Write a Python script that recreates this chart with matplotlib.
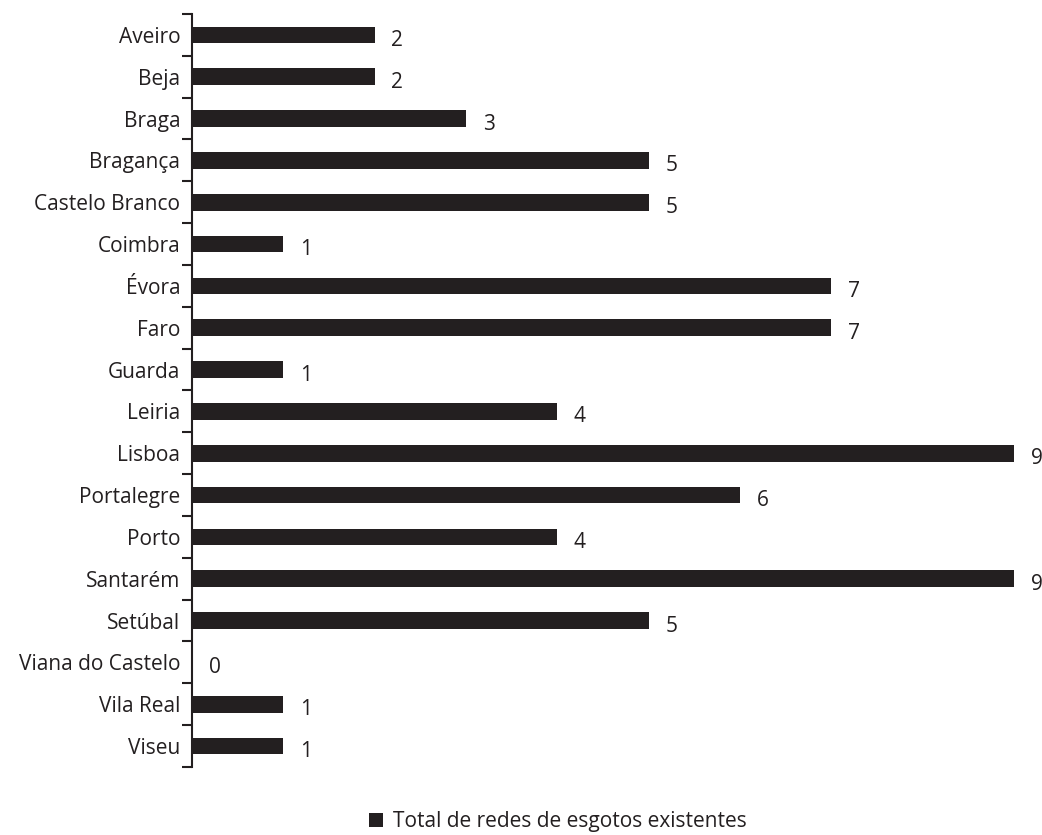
"""Horizontal bar chart: sewer networks per district."""

import matplotlib.pyplot as plt
import numpy as np
from matplotlib.patches import Patch

districts = [
    "Aveiro", "Beja", "Braga", "Bragança", "Castelo Branco", "Coimbra",
    "Évora", "Faro", "Guarda", "Leiria", "Lisboa", "Portalegre", "Porto",
    "Santarém", "Setúbal", "Viana do Castelo", "Vila Real", "Viseu",
]
networks = [2, 2, 3, 5, 5, 1, 7, 7, 1, 4, 9, 6, 4, 9, 5, 0, 1, 1]
series_label = "Total de redes de esgotos existentes"

BAR_COLOR = "#231f20"
FS = 15

plt.rcParams["font.family"] = ["Open Sans", "DejaVu Sans"]

fig = plt.figure(figsize=(10.42, 8.35), dpi=100)
ax = fig.add_axes([192 / 1042, 68 / 835, 822 / 1042, (767 - 14) / 835])

y = np.arange(len(districts))
ax.barh(y, networks, height=0.4, color=BAR_COLOR)

for yi, v in zip(y, networks):
    ax.annotate(str(v), (v, yi), xytext=(12, -4), textcoords="offset points",
                ha="left", va="center", fontsize=FS, color="#231f20",
                annotation_clip=False)

ax.set_xlim(0, 9)
ax.set_ylim(len(districts) - 0.5, -0.5)
ax.set_yticks(y)
ax.set_yticklabels(districts, fontsize=FS, color="#231f20")
ax.set_yticks(np.arange(len(districts) + 1) - 0.5, minor=True)
ax.tick_params(axis="y", which="major", length=0, pad=8.5)
ax.tick_params(axis="y", which="minor", length=7, width=1.5, color="#231f20")
ax.set_xticks([])

for side in ("top", "right", "bottom"):
    ax.spines[side].set_visible(False)
ax.spines["left"].set_linewidth(1.5)
ax.spines["left"].set_color("#231f20")

handle = Patch(facecolor=BAR_COLOR, edgecolor="none")
fig.legend([handle], [series_label], loc="center", bbox_to_anchor=(558 / 1042, 1 - 822 / 835),
           frameon=False, fontsize=FS, handlelength=0.65, handleheight=0.65,
           handletextpad=0.5, labelcolor="#231f20", borderpad=0)

fig.savefig("out.png", dpi=100)
